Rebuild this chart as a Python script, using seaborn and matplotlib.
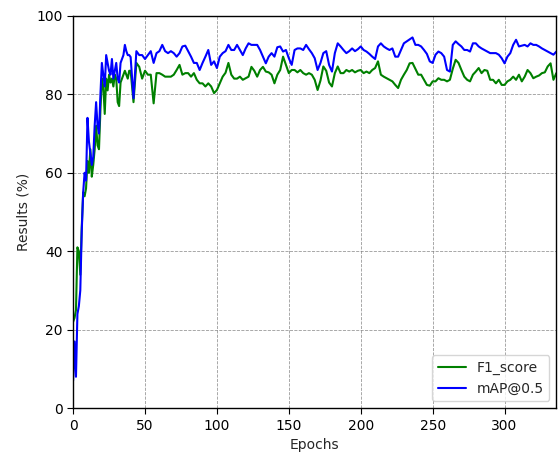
import matplotlib
matplotlib.use("Agg")
import matplotlib.pyplot as plt
import seaborn as sns
import pandas as pd

# Epoch positions: every epoch for 0-40, then every second epoch
epochs = list(range(0, 41)) + list(range(42, 337, 2))

f1_score = [
    22, 23, 25, 41, 40, 34, 46, 55, 54, 56,
    63, 60, 66, 59, 62, 66, 72, 67, 66, 76,
    84, 82, 75, 84, 81, 85, 83, 84, 82, 85,
    84, 78, 77, 83, 84, 85, 86, 85, 84, 86,
    86,
    78, 88, 87, 84, 86, 85, 85, 77.7, 85.4, 85.4,
    85, 84.5, 84.5, 84.5, 85, 86.2, 87.5, 85, 85.4, 85.4,
    84.5, 85.4, 83.7, 82.8, 82.8, 82, 82.8, 82, 80.3, 81.1,
    82.8, 84.5, 85.5, 88, 85, 84, 84, 84.5, 83.7, 84.1,
    84.5, 87, 86, 84.5, 86.2, 87, 85.8, 85.6, 85, 82.8,
    85, 86.2, 89.6, 87.5, 85.4, 86.2, 86.2, 85.6, 86.2, 85.4,
    85, 85.4, 85, 83.7, 81.1, 83.5, 87.1, 86, 83, 82,
    85.4, 87.1, 85.4, 85.4, 86.2, 85.8, 86.2, 85.6, 86, 86.2,
    85.4, 85.8, 85.4, 86.2, 86.7, 88.4, 85, 84.5, 84.1, 83.7,
    83.3, 82.4, 81.6, 83.7, 85, 86.2, 87.9, 88, 86.5, 85,
    85, 83.7, 82.4, 82.2, 83.3, 83.3, 84.1, 83.7, 83.7, 83.3,
    83.7, 86.5, 88.8, 88, 86.2, 84.5, 83.7, 83.3, 85, 85.8,
    86.7, 85.4, 86.2, 86, 83.7, 83.7, 82.8, 83.7, 82.4, 82.4,
    83.3, 83.7, 84.5, 83.7, 85, 83.3, 84.5, 86.2, 85.4, 84.1,
    84.5, 84.8, 85.4, 85.6, 87.1, 87.9, 83.7, 85.4,
]

map_05 = [
    7, 17, 8, 24, 26, 30, 45, 55, 60, 58,
    74, 68, 65, 62, 64, 72, 78, 72, 70, 80,
    88, 85, 82, 90, 88, 86, 85, 89, 84, 86,
    88, 84, 83, 88, 89, 90, 92.6, 91, 90, 90,
    89.5,
    79, 91, 90, 90, 89, 90, 91, 88, 90.5, 91,
    92.6, 91, 90.5, 91, 90.5, 89.6, 90.5, 92.2, 92.4, 91,
    89.6, 88, 88, 86.2, 88, 89.6, 91.3, 87.5, 88.4, 86.7,
    89.6, 90.5, 91, 92.6, 91.3, 91.3, 92.6, 91.3, 90, 91.7,
    93, 92.6, 92.6, 92.6, 91.3, 89.6, 87.9, 89.6, 90.5, 89.6,
    92, 92.2, 90.9, 91.3, 89.2, 87.5, 91.3, 91.7, 91.7, 91.3,
    92.6, 91.5, 90.5, 89.2, 86.2, 88, 90.5, 91, 87.5, 85.8,
    90.5, 93, 92.2, 91.3, 90.5, 91, 91.7, 91, 91.5, 92.2,
    91.3, 90.9, 90.3, 89.6, 89, 92.2, 93, 92.2, 91.7, 91.3,
    91.7, 89.6, 89.6, 91.3, 93, 93.5, 94, 94.5, 92.6, 92.6,
    92.2, 91.3, 90.3, 88.4, 88, 90.1, 90.9, 90.5, 89.6, 86.2,
    85.8, 92.6, 93.5, 92.8, 92.2, 91.3, 91.3, 90.9, 93, 93,
    92.2, 91.7, 91.3, 90.9, 90.5, 90.5, 90.5, 90.1, 89.2, 87.9,
    89.6, 90.5, 92.6, 93.9, 92.2, 92.4, 92.6, 92.2, 93, 92.6,
    92.6, 92.2, 91.7, 91.3, 90.9, 90.5, 90.1, 90.9,
]

series_names = ["F1_score", "mAP@0.5"]
series_colors = ["green", "blue"]

df = pd.concat([
    pd.DataFrame({"Epochs": epochs, "value": f1_score, "series": series_names[0]}),
    pd.DataFrame({"Epochs": epochs, "value": map_05, "series": series_names[1]}),
], ignore_index=True)

sns.set_style("ticks")
plt.rcParams["font.family"] = ["DejaVu Sans"]

fig = plt.figure(figsize=(5.58, 4.53), dpi=100)
ax = fig.add_axes([0.131, 0.099, 0.866, 0.866])

sns.lineplot(data=df, x="Epochs", y="value", hue="series",
             palette=dict(zip(series_names, series_colors)),
             linewidth=1.5, ax=ax, sort=False, estimator=None)

ax.set_xlim(0, 336)
ax.set_ylim(0, 100)
ax.set_xticks([0, 50, 100, 150, 200, 250, 300])
ax.set_yticks([0, 20, 40, 60, 80, 100])
ax.grid(True, color="gray", linestyle="--", linewidth=0.6, alpha=0.8)
ax.set_axisbelow(True)
for s in ax.spines.values():
    s.set_color("black")
    s.set_linewidth(1.0)
ax.tick_params(axis="both", labelsize=10, colors="black", direction="out", length=4)
ax.set_xlabel("Epochs", fontsize=10)
ax.set_ylabel("Results (%)", fontsize=10)
leg = ax.legend(loc="lower right", fontsize=10, frameon=True)
leg.set_title(None)

fig.savefig("out.png", dpi=100)
